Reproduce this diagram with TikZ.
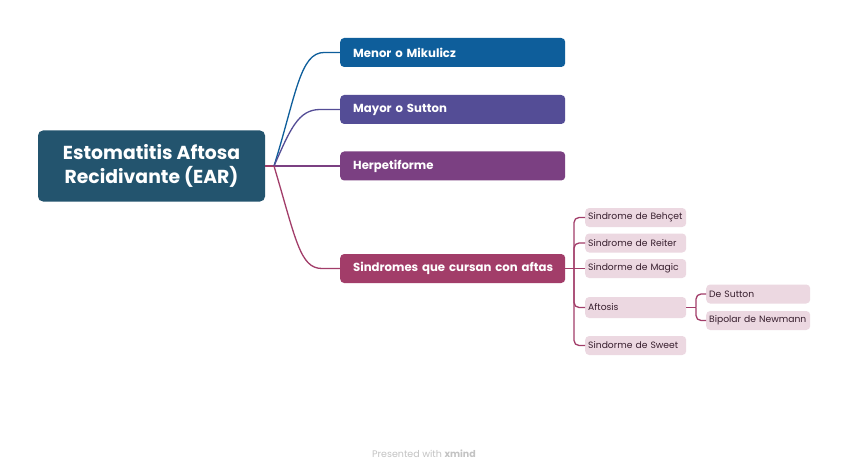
\documentclass[tikz,border=0pt]{standalone}
\usepackage{fontspec}
\setmainfont{Poppins}
\newfontfamily\leaffont{Poppins}
\begin{document}
\begin{tikzpicture}[x=1pt,y=-1pt,
  rootbox/.style={draw=none,fill=rootc,rounded corners=5pt,text=white,font=\bfseries\fontsize{18.8}{24}\selectfont,align=center,minimum width=227pt,minimum height=71pt,inner sep=0pt},
  branchbox/.style={draw=none,rounded corners=4pt,text=white,font=\bfseries\fontsize{11.7}{14}\selectfont,minimum width=225pt,text width=199pt,align=left,inner xsep=13pt,inner ysep=0pt,minimum height=29pt,anchor=west},
  leafbox/.style={draw=none,fill=leafc,rounded corners=4pt,text=leaftext,font=\leaffont\fontsize{9.2}{11}\selectfont,text width=95pt,align=left,inner xsep=3pt,inner ysep=0pt,minimum height=19pt,anchor=west},
  conn/.style={line width=1.3pt},
  link/.style={line width=1.3pt,draw=c4,rounded corners=5pt}]
\definecolor{rootc}{RGB}{35,84,110}
\definecolor{c1}{RGB}{14,94,155}
\definecolor{c2}{RGB}{84,77,150}
\definecolor{c3}{RGB}{123,64,130}
\definecolor{c4}{RGB}{162,61,105}
\definecolor{leafc}{RGB}{236,216,225}
\definecolor{leaftext}{RGB}{55,30,45}
\definecolor{footc}{RGB}{195,195,195}
\useasboundingbox (0,0) rectangle (848,473);
\fill[white] (0,0) rectangle (848,473);

\node[rootbox] (root) at (151.5,166) {Estomatitis Aftosa\\Recidivante (EAR)};
\coordinate (j) at (274,166);

\node[branchbox,fill=c1] (b1) at (340,52.5) {\mbox{Menor o Mikulicz}};
\node[branchbox,fill=c2] (b2) at (340,109.5) {\mbox{Mayor o Sutton}};
\node[branchbox,fill=c3] (b3) at (340,166) {\mbox{Herpetiforme}};
\node[branchbox,fill=c4] (b4) at (340,268.5) {\mbox{Sindromes que cursan con aftas}};

\node[leafbox] (l1) at (585,217.5) {\mbox{Sindrome de Behçet}};
\node[leafbox] (l2) at (585,243) {\mbox{Sindrome de Reiter}};
\node[leafbox] (l3) at (585,268.5) {\mbox{Sindorme de Magic}};
\node[leafbox,minimum height=21pt] (l4) at (585,307.5) {\mbox{Aftosis}};
\node[leafbox] (l5) at (585,345.5) {\mbox{Sindorme de Sweet}};
\node[leafbox,text width=98pt] (m1) at (706,294) {\mbox{De Sutton}};
\node[leafbox,text width=98pt] (m2) at (706,320.5) {\mbox{Bipolar de Newmann}};

% root stub
\draw[conn,draw=c4] (root.east) -- (j);
% root connectors
\draw[conn,draw=c1] (j) .. controls (296,95) and (300,52.5) .. (324,52.5) -- (b1.west);
\draw[conn,draw=c2] (j) .. controls (290,130) and (298,109.5) .. (320,109.5) -- (b2.west);
\draw[conn,draw=c3] (j) -- (b3.west);
\draw[conn,draw=c4] (j) .. controls (296,240) and (300,268.5) .. (322,268.5) -- (b4.west);

% Sindromes children
\coordinate (s) at (574,268.5);
\draw[link] (b4.east) -- (s);
\draw[link] (s) |- (l1.west);
\draw[link] (s) |- (l2.west);
\draw[link] (s) -- (l3.west);
\draw[link] (s) |- (l4.west);
\draw[link] (s) |- (l5.west);

% Aftosis children
\coordinate (a) at (696,307.5);
\draw[link] (l4.east) -- (a);
\draw[link] (a) |- (m1.west);
\draw[link] (a) |- (m2.west);

\node[text=footc,font=\fontsize{9.5}{11}\selectfont] (foot) at (424,453.5) {Presented with \textbf{xmind}};
\end{tikzpicture}
\end{document}
